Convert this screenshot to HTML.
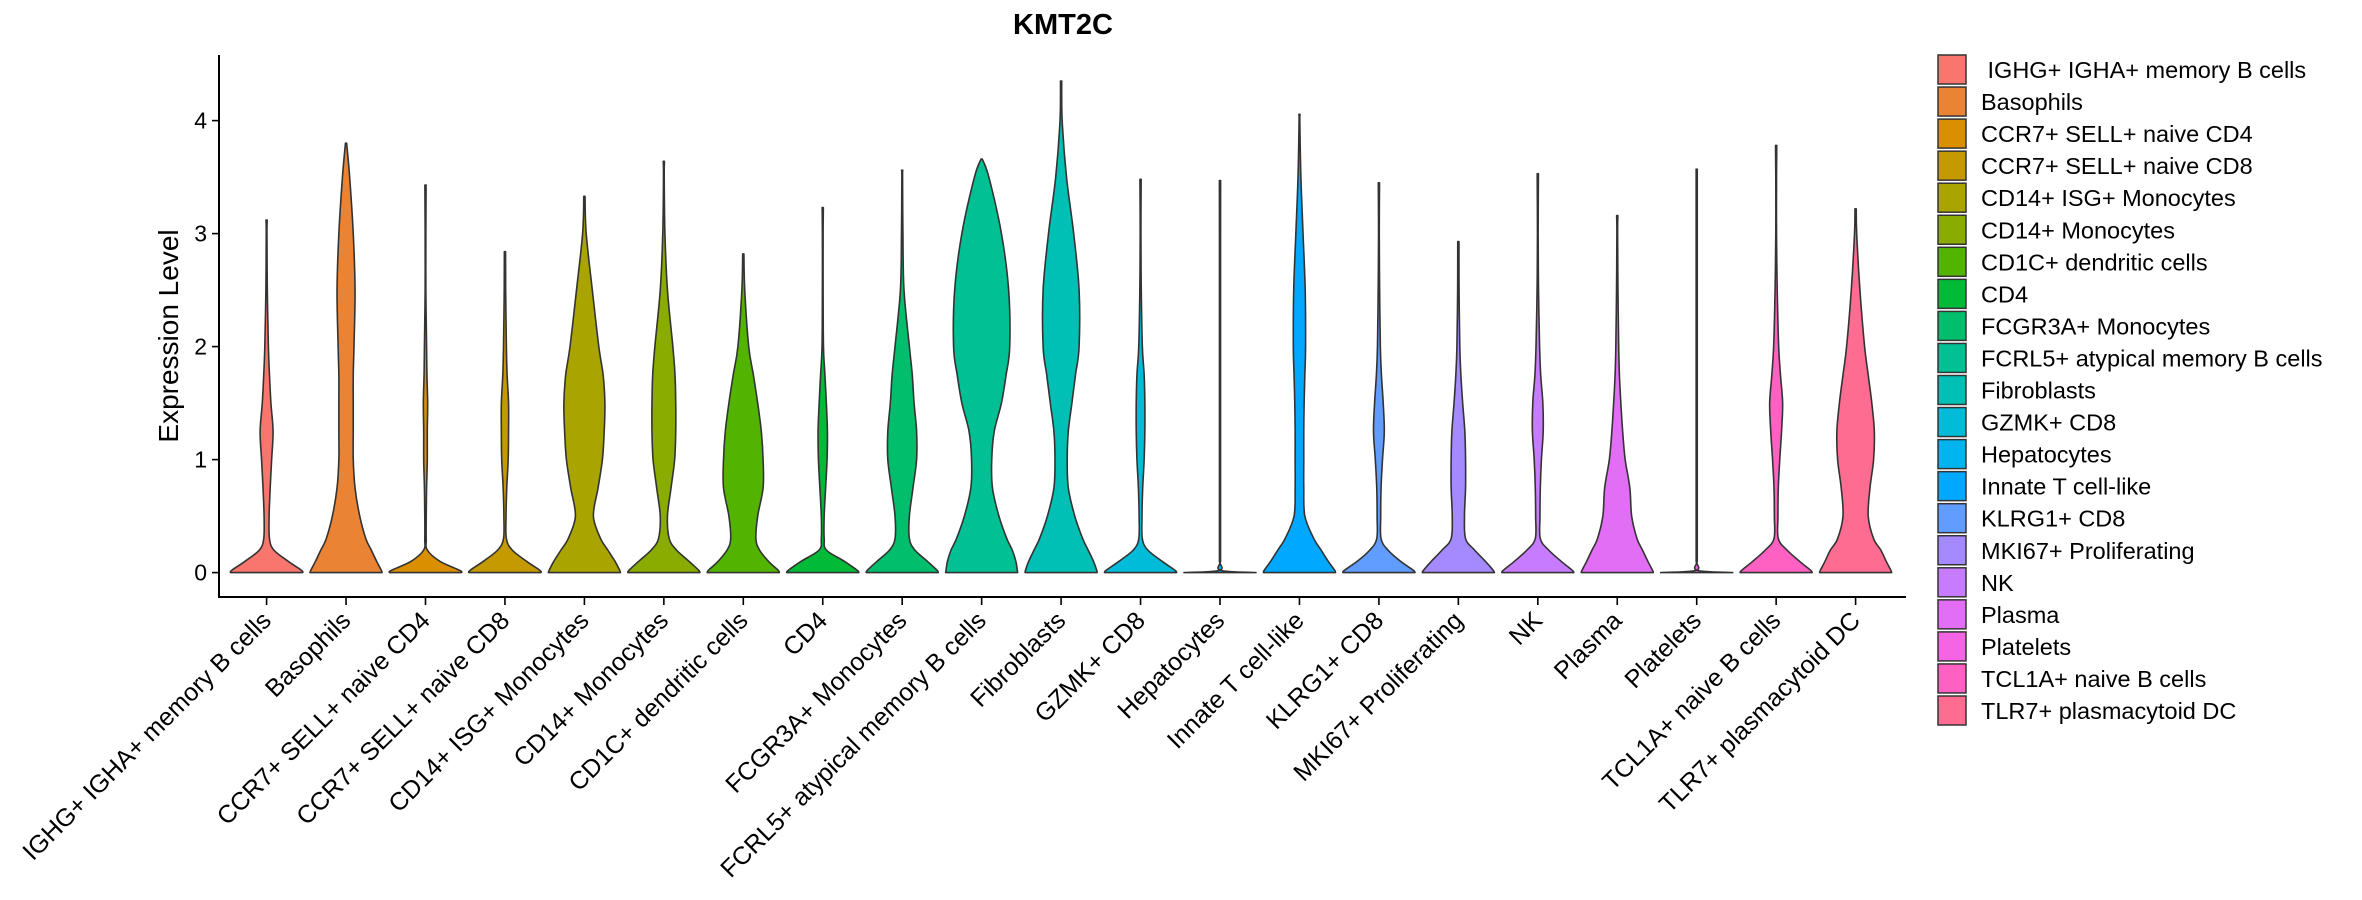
<!DOCTYPE html>
<html><head><meta charset="utf-8"><style>
html,body{margin:0;padding:0;background:#fff;}
svg{display:block;font-family:"Liberation Sans",sans-serif;}
</style></head><body>
<svg id="chart" width="2362" height="900" viewBox="0 0 2362 900" xmlns="http://www.w3.org/2000/svg">
<text x="1063" y="34" font-size="29" font-weight="bold" text-anchor="middle">KMT2C</text>
<text transform="translate(178,336) rotate(-90)" font-size="28" text-anchor="middle">Expression Level</text>
<g id="plot"></g>
<g id="legend"></g>
</svg>
<script>
const categories=[" IGHG+ IGHA+ memory B cells","Basophils","CCR7+ SELL+ naive CD4","CCR7+ SELL+ naive CD8","CD14+ ISG+ Monocytes","CD14+ Monocytes","CD1C+ dendritic cells","CD4","FCGR3A+ Monocytes","FCRL5+ atypical memory B cells","Fibroblasts","GZMK+ CD8","Hepatocytes","Innate T cell-like","KLRG1+ CD8","MKI67+ Proliferating","NK","Plasma","Platelets","TCL1A+ naive B cells","TLR7+ plasmacytoid DC"];
const colors=["#F8766D","#EB8335","#DA8F00","#C49A00","#A9A400","#8AAB00","#53B400","#00BA38","#00BE6C","#00C094","#00BFB4","#00BCD8","#00B4EF","#00A9FF","#619CFF","#A58AFF","#C77CFF","#E36EF6","#F564E3","#FF61C3","#FF6C91"];
const maxValues=[3.12,3.8,3.43,2.84,3.33,3.64,2.82,3.23,3.56,3.66,4.35,3.48,3.47,4.05,3.45,2.93,3.53,3.16,3.57,3.78,3.22];
const levels=[0,0.02,0.1,0.2,0.3,0.5,0.75,1,1.25,1.5,1.75,2,2.5,3,3.5,4];
const widths=[
[1,0.97,0.6,0.2,0.08,0.07,0.1,0.14,0.18,0.12,0.08,0.05,0.02,0.01],
[1,0.98,0.85,0.7,0.55,0.38,0.25,0.2,0.2,0.2,0.2,0.22,0.25,0.2,0.1],
[1,0.95,0.4,0.05,0.02,0.02,0.03,0.05,0.05,0.06,0.04,0.03,0.01,0.01],
[1,0.97,0.6,0.2,0.04,0.03,0.05,0.09,0.1,0.1,0.06,0.04,0.02],
[1,0.98,0.85,0.65,0.45,0.25,0.38,0.5,0.55,0.57,0.52,0.4,0.22,0.05],
[1,0.97,0.7,0.35,0.15,0.1,0.2,0.3,0.33,0.33,0.31,0.25,0.1,0.03,0.01],
[1,0.97,0.7,0.45,0.35,0.4,0.55,0.55,0.5,0.4,0.28,0.15,0.04],
[1,0.96,0.6,0.1,0.04,0.04,0.08,0.12,0.13,0.1,0.06,0.02,0.01,0.01],
[1,0.97,0.7,0.35,0.2,0.2,0.3,0.4,0.4,0.33,0.28,0.2,0.05,0.02,0.01],
[1,0.99,0.95,0.85,0.7,0.48,0.3,0.28,0.35,0.55,0.68,0.78,0.75,0.55,0.2],
[1,0.99,0.9,0.75,0.6,0.38,0.2,0.17,0.2,0.3,0.4,0.5,0.5,0.35,0.15,0.03],
[1,0.96,0.6,0.2,0.05,0.04,0.06,0.1,0.12,0.12,0.1,0.05,0.02,0.01],
[1,0.015,0.015,0.015,0.015,0.015,0.015,0.015,0.015,0.015,0.015,0.015,0.015,0.015],
[1,0.98,0.8,0.6,0.4,0.15,0.12,0.12,0.12,0.13,0.15,0.17,0.16,0.1,0.04,0.01],
[1,0.96,0.6,0.25,0.06,0.05,0.06,0.1,0.15,0.12,0.07,0.04,0.02,0.01],
[1,0.97,0.75,0.45,0.2,0.17,0.2,0.2,0.18,0.12,0.07,0.04,0.02],
[1,0.96,0.65,0.3,0.07,0.06,0.07,0.1,0.15,0.14,0.08,0.05,0.02,0.01],
[1,0.98,0.85,0.7,0.55,0.4,0.35,0.22,0.15,0.1,0.06,0.04,0.02,0.01],
[1,0.015,0.015,0.015,0.015,0.015,0.015,0.015,0.015,0.015,0.015,0.015,0.015,0.015,0.015],
[1,0.96,0.65,0.3,0.06,0.05,0.06,0.1,0.15,0.18,0.12,0.07,0.03,0.01,0.01],
[1,0.98,0.85,0.7,0.5,0.35,0.4,0.5,0.52,0.45,0.35,0.25,0.12,0.03]
];
const yTicks=[0,1,2,3,4];

const NS="http://www.w3.org/2000/svg";
const plotL=219,plotR=1906,axisY=597,y0px=572.6,unit=113;
const x0=266.6,step=79.45,halfW=36;
function xScale(i){return x0+i*step;}
function yScale(v){return y0px-v*unit;}
function mk(tag,attrs,parent){const e=document.createElementNS(NS,tag);for(const k in attrs)e.setAttribute(k,attrs[k]);parent.appendChild(e);return e;}
function smoothSide(pts,sign,cx){
  // Catmull-Rom to bezier through points
  const P=pts.map(p=>[cx+sign*p[1],yScale(p[0])]);
  let d="";
  for(let k=0;k<P.length-1;k++){
    const p0=P[Math.max(k-1,0)],p1=P[k],p2=P[k+1],p3=P[Math.min(k+2,P.length-1)];
    const c1=[p1[0]+(p2[0]-p0[0])/6,p1[1]+(p2[1]-p0[1])/6];
    const c2=[p2[0]-(p3[0]-p1[0])/6,p2[1]-(p3[1]-p1[1])/6];
    d+=" C"+c1[0].toFixed(2)+","+c1[1].toFixed(2)+" "+c2[0].toFixed(2)+","+c2[1].toFixed(2)+" "+p2[0].toFixed(2)+","+p2[1].toFixed(2);
  }
  return d;
}
const plot=document.getElementById('plot');
const legend=document.getElementById('legend');

categories.forEach((c,i)=>{
  const cx=xScale(i);
  const pts=[];
  const w=widths[i];
  for(let k=0;k<w.length&&levels[k]<maxValues[i];k++)pts.push([levels[k],w[k]*halfW]);
  pts.push([maxValues[i],0.6]);
  let d="M"+(cx-pts[0][1])+","+yScale(pts[0][0]);
  d+=smoothSide(pts,-1,cx);
  d+=" L"+(cx+pts[pts.length-1][1])+","+yScale(pts[pts.length-1][0]);
  d+=smoothSide(pts.slice().reverse(),1,cx);
  d+="Z";
  const p=mk('path',{d:d,fill:colors[i],stroke:'#333','stroke-width':1.6,'stroke-linejoin':'round'},plot);
  
  
  const t=mk('line',{x1:cx,x2:cx,y1:axisY,y2:axisY+8,stroke:'#000','stroke-width':1.6},plot);
  
  
  const lb=mk('text',{transform:'translate('+(cx+6)+','+(622)+') rotate(-45)','text-anchor':'end','font-size':25},plot);
  lb.textContent=c.trim();
  
  
  const ly=55+i*32.05;
  const key=mk('rect',{x:1938,y:ly,width:28,height:29,fill:colors[i],stroke:'#333','stroke-width':1.5},legend);
  
  
  const lt=mk('text',{x:1981,y:ly+23,'font-size':23.5},legend);
  lt.textContent=c;
  lt.style.whiteSpace='pre';
  
  
});
yTicks.forEach(v=>{
  const y=yScale(v);
  const t=mk('line',{x1:plotL-7,x2:plotL,y1:y,y2:y,stroke:'#000','stroke-width':1.6},plot);
  
  
  const lb=mk('text',{x:plotL-12,y:y+8,'text-anchor':'end','font-size':23},plot);
  lb.textContent=v;
  
  
});
const ya=mk('line',{x1:plotL,x2:plotL,y1:55,y2:axisY+1,stroke:'#000','stroke-width':2},plot);


const xa=mk('line',{x1:plotL-1,x2:plotR,y1:axisY,y2:axisY,stroke:'#000','stroke-width':2},plot);


</script>
</body></html>
